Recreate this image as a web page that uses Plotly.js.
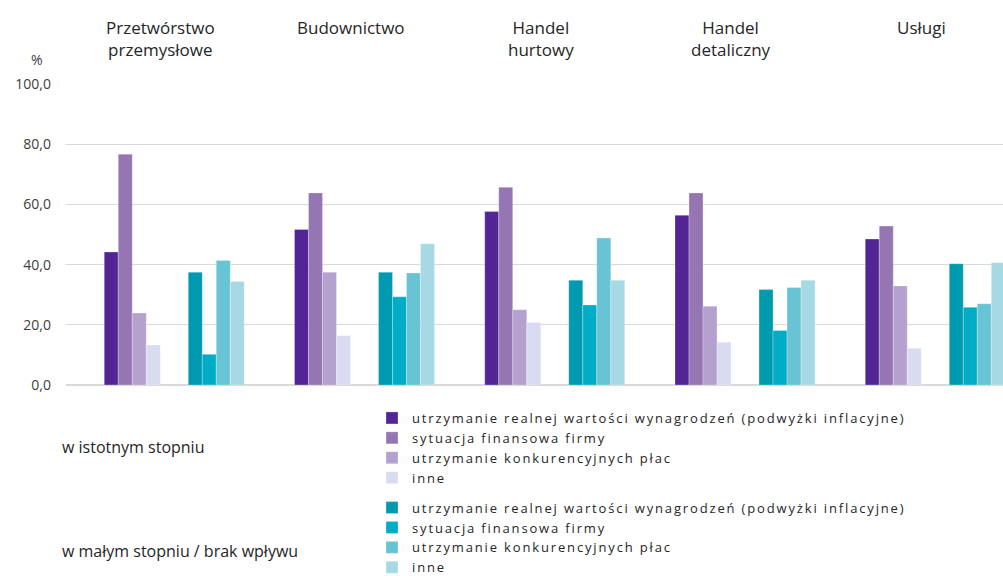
<!DOCTYPE html>
<html>
<head>
<meta charset="utf-8">
<script src="https://cdn.plot.ly/plotly-3.0.1.min.js"></script>
<style>
html,body{margin:0;padding:0;background:#fff;}
#chart{width:1003px;height:576px;}
.legendtext{letter-spacing:1.85px;}
</style>
</head>
<body>
<div id="chart"></div>
<script>
// Categories (sectors)
const sectors = ['Przetwórstwo przemysłowe', 'Budownictwo', 'Handel hurtowy', 'Handel detaliczny', 'Usługi'];
const sectorLabels = ['Przetwórstwo<br>przemysłowe', 'Budownictwo', 'Handel<br>hurtowy', 'Handel<br>detaliczny', 'Usługi'];

// Series names
const seriesNames = [
  'utrzymanie realnej wartości wynagrodzeń (podwyżki inflacyjne)',
  'sytuacja finansowa firmy',
  'utrzymanie konkurencyjnych płac',
  'inne'
];
const groupNames = ['w istotnym stopniu', 'w małym stopniu / brak wpływu'];

// "w istotnym stopniu" values (%)
const sigReal  = [44.2, 51.7, 57.6, 56.4, 48.5];
const sigFin   = [76.7, 63.8, 65.7, 63.8, 52.8];
const sigComp  = [23.9, 37.5, 25.0, 26.2, 32.9];
const sigOther = [13.3, 16.4, 20.8, 14.2, 12.2];

// "w małym stopniu / brak wpływu" values (%)
const lowReal  = [37.5, 37.5, 34.8, 31.7, 40.3];
const lowFin   = [10.2, 29.3, 26.6, 18.1, 25.8];
const lowComp  = [41.4, 37.2, 48.8, 32.4, 27.0];
const lowOther = [34.4, 46.9, 34.8, 34.8, 40.6];

const yTicks = [0, 20, 40, 60, 80, 100];

const purpleColors = ['#532494', '#9576b3', '#b4a1cd', '#d9dbf0'];
const tealColors   = ['#009ab0', '#00adc4', '#68c3d4', '#a6d9e3'];

const sigSeries = [sigReal, sigFin, sigComp, sigOther];
const lowSeries = [lowReal, lowFin, lowComp, lowOther];

const W = 0.0736; // bar width in category units
const traces = [];
sigSeries.forEach((vals, i) => {
  traces.push({
    type: 'bar', x: sectors, y: vals, name: seriesNames[i],
    legendgroup: 'sig', width: W, offset: -5 * W + i * W,
    marker: {color: purpleColors[i], line: {color: 'rgba(255,255,255,0.35)', width: 0.8}},
    hovertemplate: '%{x}<br>' + seriesNames[i] + ': %{y:.1f}<extra>' + groupNames[0] + '</extra>'
  });
});
lowSeries.forEach((vals, i) => {
  traces.push({
    type: 'bar', x: sectors, y: vals, name: seriesNames[i],
    legendgroup: 'low', width: W, offset: -5 * W + (6 + i) * W,
    marker: {color: tealColors[i], line: {color: 'rgba(255,255,255,0.35)', width: 0.8}},
    hovertemplate: '%{x}<br>' + seriesNames[i] + ': %{y:.1f}<extra>' + groupNames[1] + '</extra>'
  });
});

const FONT = '"Open Sans", "Noto Sans", sans-serif';

const annotations = sectors.map((s, k) => ({
  x: s, xref: 'x', y: 1.232, yref: 'paper', yanchor: 'top', xanchor: 'center',
  text: sectorLabels[k], showarrow: false, xshift: -14,
  font: {family: FONT, size: 17, color: '#262626'}
}));
annotations.push({
  x: -0.031, xref: 'paper', y: 1.08, yref: 'paper', xanchor: 'center', yanchor: 'middle',
  text: '%', showarrow: false, font: {family: FONT, size: 14, color: '#404040'}
});
annotations.push({
  x: -0.0064, xref: 'paper', y: -0.206, yref: 'paper', xanchor: 'left', yanchor: 'middle',
  text: groupNames[0], showarrow: false, font: {family: FONT, size: 16, color: '#262626'}
});
annotations.push({
  x: -0.0064, xref: 'paper', y: -0.551, yref: 'paper', xanchor: 'left', yanchor: 'middle',
  text: groupNames[1], showarrow: false, font: {family: FONT, size: 16, color: '#262626'}
});

const layout = {
  width: 1003, height: 576,
  margin: {l: 66, r: 0, t: 84, b: 191, pad: 0, autoexpand: false},
  paper_bgcolor: '#ffffff', plot_bgcolor: '#ffffff',
  separators: ', ',
  barmode: 'group',
  font: {family: FONT, size: 14, color: '#404040'},
  xaxis: {
    type: 'category', range: [-0.569, 4.356], showticklabels: false,
    showgrid: false, zeroline: false, showline: false, ticks: '', fixedrange: true
  },
  yaxis: {
    range: [0, 100], tickvals: yTicks, tickformat: '.1f',
    showgrid: true, gridcolor: '#d9d9d9', gridwidth: 1.2,
    zeroline: true, zerolinecolor: '#d9d9d9', zerolinewidth: 2,
    showline: false, ticks: '', ticklabelstandoff: 14,
    tickfont: {family: FONT, size: 14, color: '#404040'}, fixedrange: true
  },
  showlegend: true,
  legend: {
    x: 0.3266, xanchor: 'left', y: -0.0598, yanchor: 'top',
    orientation: 'v', traceorder: 'grouped', tracegroupgap: 10,
    font: {family: FONT, size: 13, color: '#262626'},
    bgcolor: 'rgba(0,0,0,0)', borderwidth: 0
  },
  annotations: annotations
};

Plotly.newPlot('chart', traces, layout, {displayModeBar: false, staticPlot: false});
</script>
</body>
</html>
